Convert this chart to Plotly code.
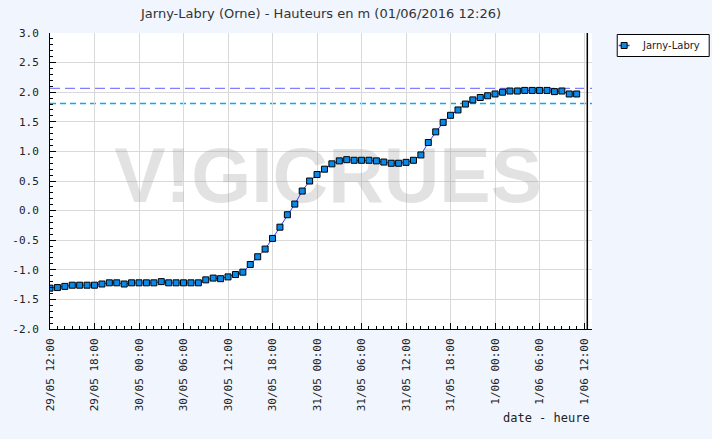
import plotly.graph_objects as go
import pandas as pd

TITLE = "Jarny-Labry (Orne) - Hauteurs en m (01/06/2016 12:26)"
STATION = "Jarny-Labry"
X_TITLE = "date - heure"
WATERMARK = "V!GICRUES"

# hourly water heights (m), starting 29/05/2016 12:00
START = "2016-05-29 12:00"
HEIGHTS = [
    -1.31, -1.30, -1.28, -1.26, -1.26, -1.26, -1.26, -1.24, -1.22, -1.22, -1.24, -1.22,
    -1.22, -1.22, -1.22, -1.20, -1.22, -1.22, -1.22, -1.22, -1.22, -1.17, -1.14, -1.15,
    -1.12, -1.08, -1.04, -0.91, -0.78, -0.65, -0.47, -0.28, -0.07, 0.11, 0.33, 0.50,
    0.61, 0.70, 0.79, 0.84, 0.86, 0.85, 0.85, 0.85, 0.84, 0.82, 0.80, 0.80,
    0.815, 0.85, 0.94, 1.15, 1.33, 1.49, 1.61, 1.70, 1.80, 1.87, 1.91, 1.94,
    1.97, 2.00, 2.02, 2.02, 2.03, 2.03, 2.03, 2.03, 2.01, 2.02, 1.97, 1.97,
]
TIMES = pd.date_range(START, periods=len(HEIGHTS), freq="h")

THRESHOLD_HIGH = 2.063
THRESHOLD_LOW = 1.809
NOW = "2016-06-01 12:26"
X_RANGE = ["2016-05-29 12:00", "2016-06-01 13:04"]
Y_RANGE = [-2.0, 3.0]
Y_TICKS = [-2.0, -1.5, -1.0, -0.5, 0.0, 0.5, 1.0, 1.5, 2.0, 2.5, 3.0]
Y_TICK_TEXT = [f"{v:.1f}" for v in Y_TICKS]
WATERMARK_POS = ("2016-05-31 01:30", 0.47)

MONO = "DejaVu Sans Mono"
SANS = "DejaVu Sans"
LINE_COLOR = "#3b3bff"
MARKER_COLOR = "#0a8ae8"

# layout geometry (pixels)
W, H = 712, 439
ML, MR, MT, MB = 44, 120, 33, 110
PW, PH = W - ML - MR, H - MT - MB


def px(xp):
    return (xp - ML) / PW


def py(yp):
    return (H - MB - yp) / PH


fig = go.Figure()

# watermark
fig.add_trace(go.Scatter(
    x=[WATERMARK_POS[0]], y=[WATERMARK_POS[1]], mode="text", text=[WATERMARK],
    textfont=dict(family="Liberation Sans", size=77, color="rgba(150,150,150,0.28)", weight="bold"),
    hoverinfo="skip", showlegend=False,
))

fig.add_trace(go.Scatter(
    x=TIMES, y=HEIGHTS, mode="lines+markers", name=STATION, showlegend=False,
    line=dict(color=LINE_COLOR, width=1),
    marker=dict(symbol="square", size=6, color=MARKER_COLOR,
                line=dict(color="#000000", width=1)),
))

fig.add_shape(type="line", xref="paper", x0=0, x1=1, yref="y",
              y0=THRESHOLD_HIGH, y1=THRESHOLD_HIGH, layer="between",
              line=dict(color="#8080ff", width=1.2, dash="10px,5px"))
fig.add_shape(type="line", xref="paper", x0=0, x1=1, yref="y",
              y0=THRESHOLD_LOW, y1=THRESHOLD_LOW, layer="between",
              line=dict(color="#0aa8ff", width=1.6, dash="6px,4px"))
fig.add_shape(type="line", xref="x", x0=NOW, x1=NOW, yref="paper",
              y0=0, y1=1, layer="above",
              line=dict(color="#000000", width=1.5))

# legend box (drawn by hand to match the compact original)
fig.add_shape(type="rect", xref="paper", yref="paper",
              x0=px(617.5), x1=px(710.5), y0=py(56.5), y1=py(34.5),
              line=dict(color="#000000", width=1), fillcolor="#ffffff", layer="above")
fig.add_shape(type="line", xref="paper", yref="paper",
              x0=px(619), x1=px(630), y0=py(45.5), y1=py(45.5),
              line=dict(color=LINE_COLOR, width=1.5), layer="above")
fig.add_shape(type="rect", xref="paper", yref="paper",
              x0=px(621.5), x1=px(627.5), y0=py(48.5), y1=py(42.5),
              line=dict(color="#000000", width=1), fillcolor=MARKER_COLOR, layer="above")
fig.add_annotation(text=STATION, xref="paper", yref="paper", x=px(641), y=py(45.5),
                   xanchor="left", yanchor="middle", showarrow=False,
                   font=dict(family=SANS, size=10, color="#222222"))

fig.add_annotation(text=X_TITLE, xref="paper", yref="paper", x=1.0, y=-0.30,
                   xanchor="right", yanchor="middle", showarrow=False,
                   font=dict(family=MONO, size=12, color="#222222"))

fig.update_layout(
    width=W, height=H, autosize=False,
    margin=dict(l=ML, r=MR, t=MT, b=MB, pad=0),
    paper_bgcolor="#f0f5fe", plot_bgcolor="#ffffff",
    title=dict(text=TITLE, x=0.5, xref="paper", xanchor="center", y=1 - 13 / H,
               yanchor="middle", font=dict(family=SANS, size=13, color="#333333")),
    showlegend=False,
)

fig.update_xaxes(
    type="date", range=X_RANGE, dtick=6 * 3600000, tick0="2016-05-29 12:00",
    tickformat="%-d/%m %H:%M", tickangle=-90,
    ticks="inside", ticklen=6, tickcolor="#000000", tickwidth=1,
    tickfont=dict(family=MONO, size=11, color="#222222"),
    showline=True, linecolor="#000000", linewidth=1, mirror=False,
    showgrid=True, gridcolor="#d9d9d9", gridwidth=1, zeroline=False,
    minor=dict(dtick=3600000, ticks="inside", ticklen=3, tickcolor="#000000", showgrid=False),
    ticklabelstandoff=4,
)
fig.update_yaxes(
    range=Y_RANGE, tickvals=Y_TICKS, ticktext=Y_TICK_TEXT,
    ticks="inside", ticklen=6, tickcolor="#000000", tickwidth=1,
    tickfont=dict(family=MONO, size=11, color="#222222"),
    showline=True, linecolor="#000000", linewidth=1, mirror=False,
    showgrid=True, gridcolor="#d9d9d9", gridwidth=1, zeroline=False,
    minor=dict(dtick=0.1, ticks="inside", ticklen=3, tickcolor="#000000", showgrid=False),
    ticklabelstandoff=8,
)

fig.write_html("out.html")
